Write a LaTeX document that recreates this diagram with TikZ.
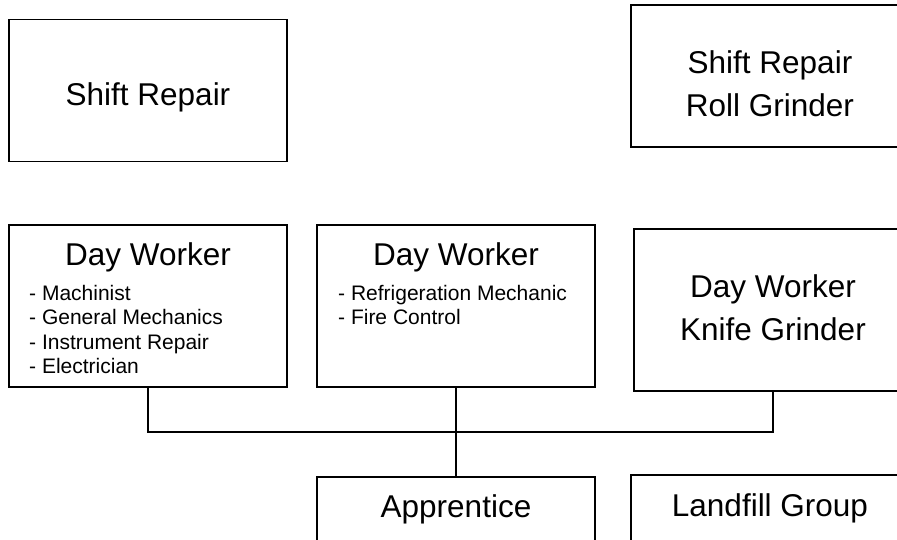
\documentclass[tikz,border=0pt]{standalone}
\usepackage{fontspec}
\setmainfont{Liberation Sans}
\begin{document}
\begin{tikzpicture}[x=1pt,y=-1pt,
  box/.style={draw=black, line width=1.3pt, fill=white, inner sep=0pt, outer sep=0pt, minimum width=278pt},
  bigtext/.style={anchor=base, inner sep=0pt, font=\fontsize{31.5}{37}\selectfont},
  smalltext/.style={anchor=base west, inner sep=0pt, font=\fontsize{21}{24.5}\selectfont},
  conn/.style={draw=black, line width=1.3pt}]
\useasboundingbox (0,0) rectangle (897,539);
\clip (0,0) rectangle (897,539);
\fill[white] (0,0) rectangle (897,539);
% boxes
\node[box, minimum height=142pt] (sr) at (148,90.7) {};
\node[box, minimum height=142pt] (srrg) at (770,76) {};
\node[box, minimum height=162pt] (dw1) at (148,306) {};
\node[box, minimum height=162pt] (dw2) at (456,306) {};
\node[box, minimum height=162pt] (dwkg) at (773,310) {};
\node[box, minimum height=150pt] (app) at (456,552) {};
\node[box, minimum height=150pt] (lf) at (770,550) {};
% texts
\node[bigtext] (sr-t) at (148,105) {Shift Repair};
\node[bigtext] (srrg-t1) at (770,73) {Shift Repair};
\node[bigtext] (srrg-t2) at (770,116) {Roll Grinder};
\node[bigtext] (dw1-t) at (148,265) {Day Worker};
\node[smalltext] (dw1-a) at (29,300) {- Machinist};
\node[smalltext] (dw1-b) at (29,324.5) {- General Mechanics};
\node[smalltext] (dw1-c) at (29,349) {- Instrument Repair};
\node[smalltext] (dw1-d) at (29,373.5) {- Electrician};
\node[bigtext] (dw2-t) at (456,265) {Day Worker};
\node[smalltext] (dw2-a) at (338,300) {- Refrigeration Mechanic};
\node[smalltext] (dw2-b) at (338,324.5) {- Fire Control};
\node[bigtext] (dwkg-t1) at (773,297) {Day Worker};
\node[bigtext] (dwkg-t2) at (773,340) {Knife Grinder};
\node[bigtext] (app-t) at (456,517) {Apprentice};
\node[bigtext] (lf-t) at (770,516) {Landfill Group};
% connectors
\coordinate (bus) at (148,432);
\draw[conn] (dw1.south) -- (dw1.south |- bus) -- (dwkg.south |- bus) -- (dwkg.south);
\draw[conn] (dw2.south) -- (app.north);
\end{tikzpicture}
\end{document}
